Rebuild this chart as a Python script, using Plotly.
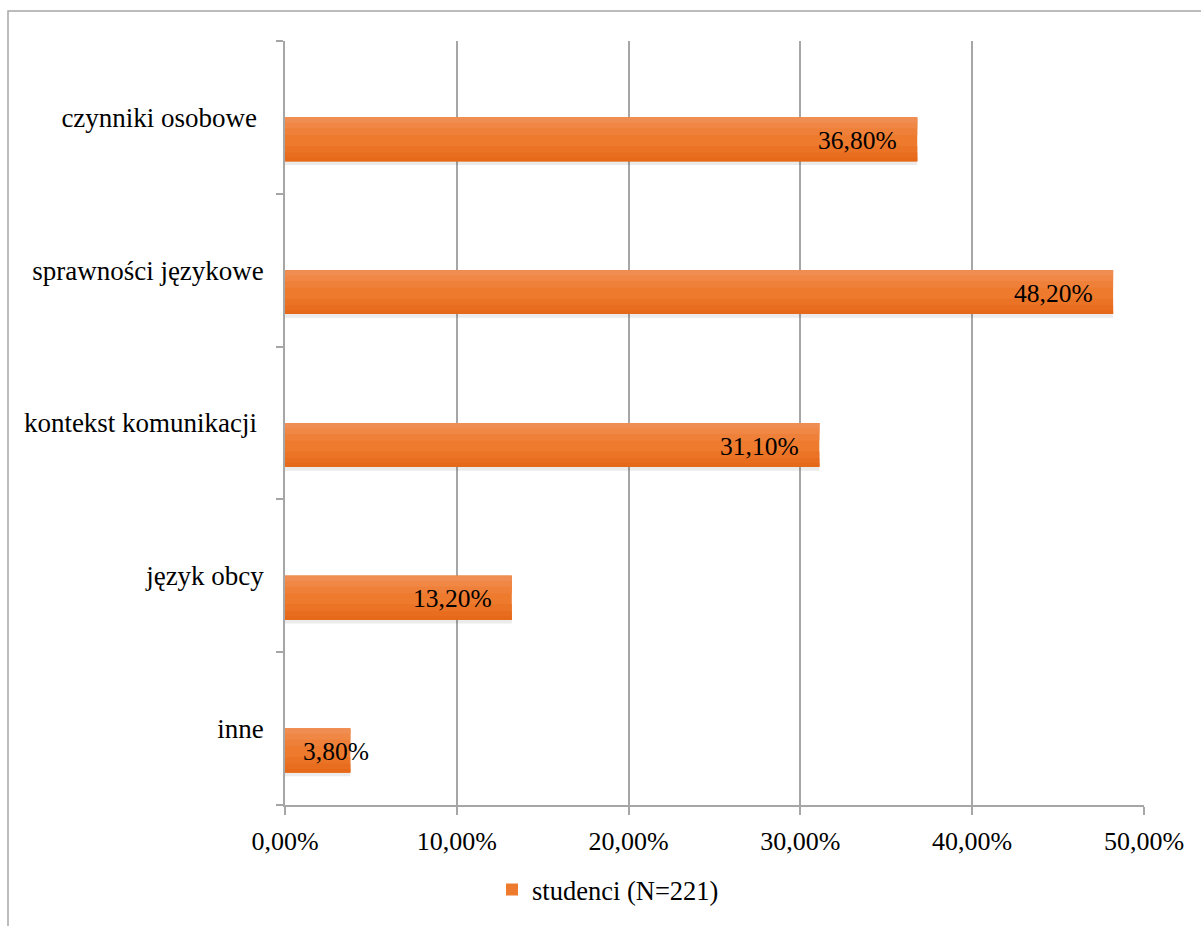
import plotly.graph_objects as go

categories = ["inne", "język obcy", "kontekst komunikacji\u00a0", "sprawności językowe", "czynniki osobowe\u00a0"]
values = [0.038, 0.132, 0.311, 0.482, 0.368]
series_name = "studenci (N=221)"
x_ticks = [0, 0.1, 0.2, 0.3, 0.4, 0.5]

FONT = "Liberation Serif"
GRID = "#A6A6A6"
BW = 0.287  # bar thickness in category units

fig = go.Figure()

# soft shadow under the bars
fig.add_trace(go.Bar(
    y=categories, x=values, orientation="h",
    width=BW + 0.025, offset=-BW - 0.025,
    marker=dict(color="rgba(0,0,0,0.08)", line=dict(width=0)),
    showlegend=False, hoverinfo="skip"))

# main bar (vertical gradient approximated with stripes)
fig.add_trace(go.Bar(
    y=categories, x=values, orientation="h", name=series_name,
    width=BW, offset=-BW,
    marker=dict(color="#EE7A2E", line=dict(width=0)),
    showlegend=True))
stripes = [
    (0.00, 0.35, "#EB7325"),
    (0.00, 0.20, "#E86D1E"),
    (0.00, 0.08, "#E56918"),
    (0.60, 0.40, "#EF8039"),
    (0.75, 0.25, "#F08745"),
    (0.88, 0.12, "#F08D52"),
]
for start, frac, col in stripes:
    fig.add_trace(go.Bar(
        y=categories, x=values, orientation="h",
        width=BW * frac, offset=-BW + BW * start,
        marker=dict(color=col, line=dict(width=0)),
        showlegend=False, hoverinfo="skip"))

# data labels
for cat, v in zip(categories, values):
    txt = f"{v*100:.2f}%".replace(".", ",")
    if v < 0.06:
        fig.add_annotation(x=0, y=cat, text=txt, showarrow=False,
                           xanchor="left", xshift=16, yshift=-23,
                           font=dict(family=FONT, size=25.5, color="#000"))
    else:
        fig.add_annotation(x=v, y=cat, text=txt, showarrow=False,
                           xanchor="right", xshift=-18, yshift=-23,
                           font=dict(family=FONT, size=25.5, color="#000"))

# outer chart border
fig.add_shape(type="rect", xref="paper", yref="paper",
              x0=(8 - 285) / 859, x1=1.3, y0=-0.3, y1=1 + (41 - 11) / 767,
              line=dict(color=GRID, width=1.5), layer="below")

fig.update_layout(
    width=1201, height=926, autosize=False,
    margin=dict(l=285, r=57, t=41, b=118),
    paper_bgcolor="white", plot_bgcolor="white",
    separators=",.",
    barmode="overlay",
    font=dict(family=FONT, size=26, color="#000"),
    showlegend=True,
    legend=dict(orientation="h", x=(608 - 285) / 859, xanchor="center",
                y=(808 - 893) / 767, yanchor="middle",
                font=dict(family=FONT, size=26.5, color="#000"),
                itemwidth=30),
    xaxis=dict(range=[0, 0.5], tickvals=x_ticks, tickformat=".2%",
               tickfont=dict(family=FONT, size=26),
               showgrid=True, gridcolor=GRID, gridwidth=1.5,
               showline=True, linecolor=GRID, linewidth=1.5,
               ticks="outside", ticklen=8, tickcolor=GRID, tickwidth=1.5,
               zeroline=False, ticklabelstandoff=4),
    yaxis=dict(type="category", categoryarray=categories, categoryorder="array",
               tickfont=dict(family=FONT, size=27),
               tickson="boundaries", ticks="outside", ticklen=7,
               tickcolor=GRID, tickwidth=1.5,
               showline=True, linecolor=GRID, linewidth=1.5,
               showgrid=False, zeroline=False, ticklabelstandoff=14),
)

fig.write_html("out.html")
